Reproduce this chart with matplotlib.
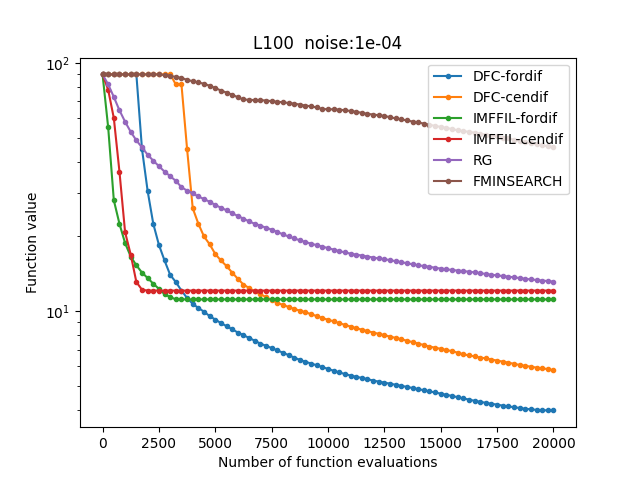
import matplotlib
matplotlib.use("Agg")
import matplotlib.pyplot as plt
import numpy as np

# budget and names
max_evals = 20000
labels = ["DFC-fordif", "DFC-cendif", "IMFFIL-fordif", "IMFFIL-cendif", "RG", "FMINSEARCH"]

# function values, recorded every 250 evaluations (0..20000)
dfc_fordif = [90.0] * 7 + [
    45.0, 30.5, 22.5, 18.5, 16.0, 14.0, 13.1, 12.1, 11.3, 10.7,
    10.3, 9.95, 9.55, 9.25, 8.95, 8.7, 8.45, 8.2, 8.0, 7.8,
    7.6, 7.4, 7.25, 7.1, 6.95, 6.8, 6.65, 6.5, 6.36, 6.25,
    6.15, 6.05, 5.95, 5.85, 5.75, 5.66, 5.58, 5.5, 5.44, 5.38,
    5.32, 5.25, 5.2, 5.15, 5.1, 5.05, 5.0, 4.95, 4.9, 4.85,
    4.8, 4.75, 4.7, 4.65, 4.6, 4.55, 4.5, 4.45, 4.4, 4.35,
    4.31, 4.27, 4.23, 4.2, 4.16, 4.13, 4.1, 4.07, 4.04, 4.02,
    4.0, 3.99, 3.98, 3.98,
]
dfc_cendif = [90.0] * 13 + [
    82.0, 82.0, 45.0, 26.0, 22.5, 20.0, 18.6, 17.0, 16.0, 15.2,
    14.3, 13.5, 12.8, 12.4, 12.0, 11.7, 11.4, 11.1, 10.8, 10.6,
    10.4, 10.2, 10.05, 9.9, 9.72, 9.55, 9.38, 9.23, 9.1, 8.95,
    8.8, 8.67, 8.54, 8.42, 8.31, 8.2, 8.1, 8.0, 7.9, 7.8,
    7.7, 7.6, 7.5, 7.4, 7.3, 7.2, 7.12, 7.05, 6.97, 6.9,
    6.8, 6.7, 6.63, 6.57, 6.5, 6.45, 6.38, 6.32, 6.26, 6.2,
    6.13, 6.07, 6.02, 5.97, 5.92, 5.88, 5.84, 5.78,
]
imffil_fordif = [
    90.0, 55.0, 28.0, 22.5, 18.8, 16.6, 15.3, 14.3, 13.6, 12.9,
    12.3, 11.7, 11.4,
] + [11.15] * 68
imffil_cendif = [
    90.0, 78.0, 60.0, 36.5, 20.8, 16.9, 13.1, 12.2,
] + [12.1] * 73
rg = [
    90.0, 82.0, 73.0, 64.5, 58.0, 52.8, 48.8, 45.7, 42.7, 40.4,
    38.4, 36.5, 35.0, 33.5, 31.6, 30.6, 29.8, 29.0, 28.3, 27.6,
    26.8, 26.1, 25.5, 24.8, 24.2, 23.6, 23.0, 22.5, 22.1, 21.7,
    21.3, 20.85, 20.4, 20.0, 19.65, 19.3, 19.0, 18.7, 18.45, 18.2,
    17.95, 17.7, 17.45, 17.25, 17.05, 16.9, 16.75, 16.6, 16.45, 16.3,
    16.2, 16.05, 15.9, 15.75, 15.6, 15.45, 15.3, 15.2, 15.1, 14.95,
    14.85, 14.75, 14.65, 14.57, 14.5, 14.42, 14.33, 14.23, 14.12, 14.02,
    13.93, 13.85, 13.77, 13.68, 13.6, 13.5, 13.42, 13.35, 13.28, 13.22,
    13.15,
]
fminsearch = [90.0] * 11 + [
    89.5, 89.0, 87.8, 87.2, 85.5, 84.5, 83.5, 82.5, 81.0, 79.3,
    77.5, 76.0, 74.5, 72.8, 71.3, 71.1, 70.9, 70.9, 70.6, 70.2,
    69.8, 69.5, 69.0, 68.6, 68.0, 67.4, 66.9, 66.2, 65.3, 65.1,
    65.1, 64.9, 64.5, 64.1, 63.6, 63.0, 62.4, 62.0, 61.6, 61.2,
    60.5, 59.8, 59.3, 58.7, 58.1, 57.6, 57.0, 56.4, 55.8, 55.3,
    54.8, 54.2, 53.6, 53.2, 52.8, 52.4, 51.9, 51.5, 51.0, 50.6,
    50.1, 49.7, 49.1, 48.6, 48.0, 47.5, 47.0, 46.6, 46.2, 45.8,
]

series = [dfc_fordif, dfc_cendif, imffil_fordif, imffil_cendif, rg, fminsearch]

fig, ax = plt.subplots(figsize=(6.4, 4.8), dpi=100)
for vals, lab in zip(series, labels):
    x = np.linspace(0, max_evals, len(vals))
    ax.plot(x, vals, marker=".", label=lab)

ax.set_yscale("log")
ax.set_title("L100  noise:1e-04")
ax.set_xlabel("Number of function evaluations")
ax.set_ylabel("Function value")
ax.legend(loc="upper right")

fig.savefig("out.png", dpi=100)
print([len(s) for s in series])
